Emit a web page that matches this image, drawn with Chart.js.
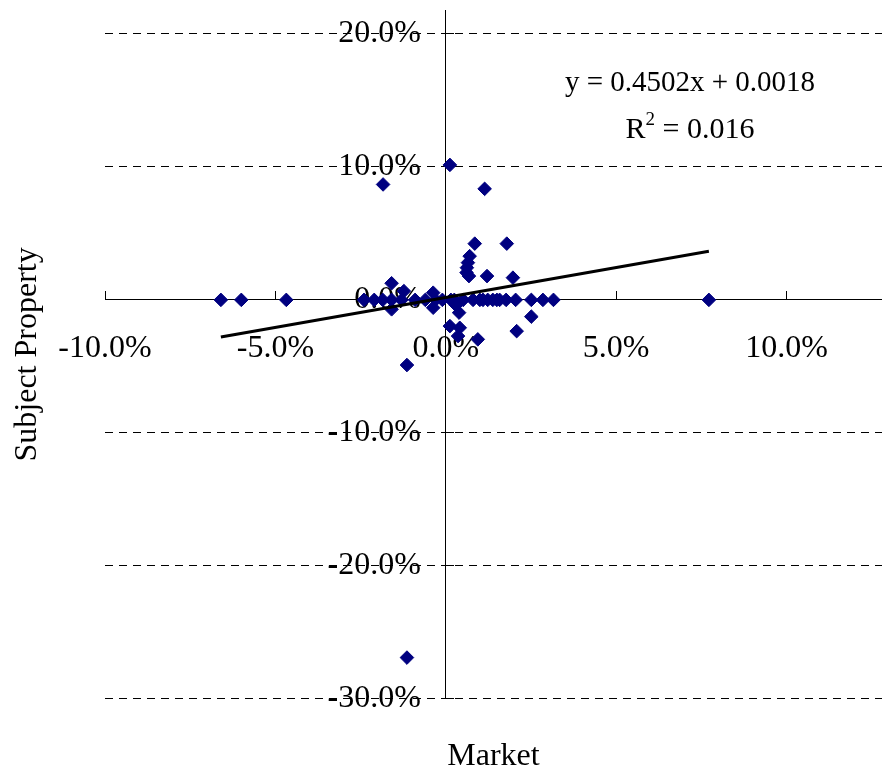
<!DOCTYPE html>
<html><head><meta charset="utf-8">
<script src="https://cdn.jsdelivr.net/npm/chart.js@4/dist/chart.umd.min.js"></script>
<style>html,body{margin:0;padding:0;background:#fff;}canvas{display:block;}</style>
</head><body>
<canvas id="c" width="882" height="774"></canvas>
<script>
// Market return (x) and subject property return (y), as decimals
const marketReturns = [
  -0.0660, -0.0600, -0.0468, -0.0240, -0.0210, -0.0185, -0.0184, -0.0159, -0.0159, -0.0159,
  -0.0123, -0.0130, -0.0114, -0.0114, -0.0090, -0.0060, -0.0037, -0.0037, -0.0030, -0.0010,
   0.0012,  0.0012,  0.0015,  0.0039,  0.0041,  0.0036,  0.0051,  0.0070,  0.0065,  0.0062,
   0.0061,  0.0068,  0.0080,  0.0085,  0.0094,  0.0100,  0.0114,  0.0109,  0.0121,  0.0123,
   0.0138,  0.0150,  0.0158,  0.0177,  0.0179,  0.0197,  0.0205,  0.0208,  0.0251,  0.0251,
   0.0285,  0.0316,  0.0772,  0.0025,  0.0030
];
const subjectReturns = [
   0.0000,  0.0000,  0.0000,  0.0000,  0.0000,  0.0000,  0.0868,  0.0125, -0.0071,  0.0000,
   0.0066,  0.0000, -0.0490, -0.2690,  0.0000,  0.0000,  0.0054, -0.0059,  0.0000,  0.0000,
   0.1015, -0.0197,  0.0000, -0.0096, -0.0210, -0.0272,  0.0000,  0.0329,  0.0280,  0.0242,
   0.0205,  0.0179,  0.0000,  0.0423, -0.0297,  0.0000,  0.0835,  0.0000,  0.0179,  0.0000,
   0.0000,  0.0000,  0.0000,  0.0000,  0.0423,  0.0167,  0.0000, -0.0235, -0.0126,  0.0000,
   0.0000,  0.0000,  0.0000,  0.0000, -0.0040
];
const xTicks = [-0.10, -0.05, 0, 0.05, 0.10];
const yTicks = [-0.30, -0.20, -0.10, 0, 0.10, 0.20];
const trendSlope = 0.4502;
const trendIntercept = 0.0018;
const rSquared = 0.016;
const xTitle = 'Market';
const yTitle = 'Subject Property';

const FONT = '"Liberation Serif", "Times New Roman", serif';
const pct = v => (Math.abs(v) < 1e-9 ? 0 : v * 100).toFixed(1) + '%';

const points = marketReturns.map((x, i) => ({x, y: subjectReturns[i]}));
const xMin = Math.min(...marketReturns), xMax = Math.max(...marketReturns);
const trend = [xMin, xMax].map(x => ({x, y: trendSlope * x + trendIntercept}));

const zeroPad = s => { s.paddingTop = 0; s.paddingBottom = 0; s.paddingLeft = 0; s.paddingRight = 0; };

// y labels of a value-positioned axis are drawn flush with the axis; move them left of it
const yLabelGap = 25;
const labelShiftPlugin = {
  id: 'labelShift',
  beforeDraw(chart) {
    const s = chart.scales.y;
    const items = s.getLabelItems(chart.chartArea);
    if (!items._shifted) {
      items.forEach(it => { it.options.translation[0] -= yLabelGap; });
      items._shifted = true;
    }
  }
};

const equationPlugin = {
  id: 'equation',
  afterDraw(chart) {
    const ctx = chart.ctx;
    ctx.save();
    ctx.fillStyle = '#000';
    ctx.textBaseline = 'alphabetic';
    ctx.font = '29px ' + FONT;
    ctx.textAlign = 'center';
    const cx = 690;
    ctx.fillText('y = ' + trendSlope.toFixed(4) + 'x + ' + trendIntercept.toFixed(4), cx, 91);
    const rest = ' = ' + rSquared.toFixed(3);
    ctx.font = '30px ' + FONT;
    const wR = ctx.measureText('R').width;
    const wRest = ctx.measureText(rest).width;
    ctx.font = '19px ' + FONT;
    const w2 = ctx.measureText('2').width;
    const total = wR + w2 + wRest;
    const x0 = cx - total / 2;
    ctx.textAlign = 'left';
    ctx.font = '30px ' + FONT;
    ctx.fillText('R', x0, 138);
    ctx.font = '19px ' + FONT;
    ctx.fillText('2', x0 + wR, 125);
    ctx.font = '30px ' + FONT;
    ctx.fillText(rest, x0 + wR + w2, 138);
    ctx.restore();
  }
};

new Chart(document.getElementById('c'), {
  data: {
    datasets: [
      {
        type: 'line',
        data: trend,
        borderColor: '#000',
        borderWidth: 3,
        pointRadius: 0,
        fill: false,
        order: 0
      },
      {
        type: 'scatter',
        data: points,
        pointStyle: 'rectRot',
        pointRadius: 6.8,
        backgroundColor: '#000080',
        borderColor: '#000080',
        borderWidth: 1,
        order: 1
      }
    ]
  },
  options: {
    responsive: false,
    animation: false,
    layout: {autoPadding: false, padding: {top: 10, left: 0, right: 0, bottom: 0}},
    plugins: {
      legend: {display: false},
      tooltip: {enabled: false},
      title: {
        display: true, text: xTitle, position: 'bottom', fullSize: false,
        color: '#000', font: {family: FONT, size: 32, weight: 'normal', lineHeight: 1.1},
        padding: {top: 40, bottom: 0}
      },
      subtitle: {
        display: true, text: yTitle, position: 'left', fullSize: false,
        color: '#000', font: {family: FONT, size: 32, weight: 'normal', lineHeight: 1.2},
        padding: {top: 8, bottom: 58.6}
      }
    },
    scales: {
      x: {
        type: 'linear',
        position: {y: 0},
        min: -0.10, max: 0.128,
        afterBuildTicks: s => { s.ticks = xTicks.map(v => ({value: v})); },
        afterFit: zeroPad,
        grid: {drawOnChartArea: false, drawTicks: true, tickLength: -9, color: '#000', tickColor: '#000', tickWidth: 1},
        border: {display: true, color: '#000', width: 1},
        ticks: {color: '#000', font: {family: FONT, size: 32}, padding: 39, maxRotation: 0, autoSkip: false, callback: v => pct(v)}
      },
      y: {
        type: 'linear',
        position: {x: 0},
        min: -0.30, max: 0.218,
        afterBuildTicks: s => { s.ticks = yTicks.map(v => ({value: v})); },
        afterFit: zeroPad,
        grid: {drawOnChartArea: true, drawTicks: true, tickLength: -9, color: '#000', tickColor: '#000', lineWidth: 1, tickBorderDash: []},
        border: {display: true, color: '#000', width: 1, dash: [8, 6]},
        ticks: {color: '#000', font: {family: FONT, size: 32}, padding: 0, autoSkip: false, callback: v => pct(v)}
      }
    }
  },
  plugins: [labelShiftPlugin, equationPlugin]
});
</script>
</body></html>
